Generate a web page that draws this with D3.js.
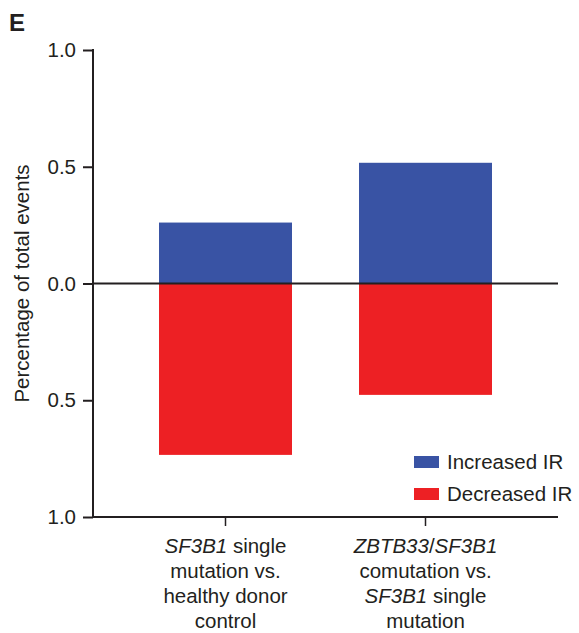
<!DOCTYPE html>
<html>
<head>
<meta charset="utf-8">
<script src="https://cdn.jsdelivr.net/npm/d3@7"></script>
<style>
  body { margin: 0; background: #fff; }
  text { font-family: "Liberation Sans", Arial, sans-serif; fill: #231f20; }
</style>
</head>
<body>
<svg width="579" height="633"></svg>
<script>
const categories = ['sf3b1', 'zbtb33'];
const increased = [0.261, 0.517];
const decreased = [0.734, 0.477];
const yTicks = [-1, -0.5, 0, 0.5, 1];
const seriesNames = ['Increased IR', 'Decreased IR'];
const seriesColors = ['#3953a4', '#ed2024'];
// category labels, one array of lines per bar; segments marked italic
const catLabels = [
	[[['SF3B1', true], [' single', false]], [['mutation vs.', false]], [['healthy donor', false]], [['control', false]]],
	[[['ZBTB33', true], ['/', false], ['SF3B1', true]], [['comutation vs.', false]], [['SF3B1', true], [' single', false]], [['mutation', false]]]
];

const svg = d3.select('svg');
const plotLeft = 93, plotRight = 558, plotTop = 50, plotBottom = 517;
const axisColor = '#231f20';
const fs = 20.5;

const y = d3.scaleLinear().domain([-1, 1]).range([plotBottom, plotTop]);
const x = d3.scaleBand().domain(categories).range([125.5, 525.5])
	.paddingInner(0.335).paddingOuter(0.1675);

// panel label
svg.append('text').attr('x', 9).attr('y', 31)
	.attr('font-size', 24).attr('font-weight', 'bold').text('E');

// bars
const bars = svg.append('g');
bars.selectAll('rect.inc')
	.data(categories)
	.enter().append('rect')
		.attr('class', 'inc')
		.attr('x', d => x(d))
		.attr('width', x.bandwidth())
		.attr('y', (d, i) => y(increased[i]))
		.attr('height', (d, i) => y(0) - y(increased[i]))
		.attr('fill', seriesColors[0]);
bars.selectAll('rect.dec')
	.data(categories)
	.enter().append('rect')
		.attr('class', 'dec')
		.attr('x', d => x(d))
		.attr('width', x.bandwidth())
		.attr('y', y(0))
		.attr('height', (d, i) => y(-decreased[i]) - y(0))
		.attr('fill', seriesColors[1]);

// y axis
const yAxis = svg.append('g')
	.attr('transform', `translate(${plotLeft},0)`)
	.call(d3.axisLeft(y).tickValues(yTicks).tickSize(10).tickPadding(7)
		.tickFormat(d => d3.format('.1f')(Math.abs(d))));
yAxis.select('.domain').remove();
yAxis.append('line').attr('x1', 0).attr('x2', 0).attr('y1', plotTop - 1).attr('y2', plotBottom + 1)
	.attr('stroke', axisColor).attr('stroke-width', 2);
yAxis.selectAll('.tick line').attr('stroke', axisColor).attr('stroke-width', 2);
yAxis.selectAll('.tick text').attr('font-size', fs).attr('fill', '#231f20')
	.attr('font-family', '"Liberation Sans", Arial, sans-serif');

// zero line
svg.append('line').attr('x1', plotLeft).attr('x2', plotRight).attr('y1', y(0)).attr('y2', y(0))
	.attr('stroke', axisColor).attr('stroke-width', 2);

// bottom axis
const xAxis = svg.append('g')
	.attr('transform', `translate(0,${plotBottom})`)
	.call(d3.axisBottom(x).tickSize(9).tickFormat(''));
xAxis.select('.domain').remove();
xAxis.append('line').attr('x1', plotLeft).attr('x2', plotRight).attr('y1', 0).attr('y2', 0)
	.attr('stroke', axisColor).attr('stroke-width', 2);
xAxis.selectAll('.tick line').attr('stroke', axisColor).attr('stroke-width', 1.5);

// category labels
categories.forEach((c, i) => {
	const cx = x(c) + x.bandwidth() / 2;
	catLabels[i].forEach((line, j) => {
		const t = svg.append('text')
			.attr('x', cx).attr('y', 553 + j * 25)
			.attr('text-anchor', 'middle').attr('font-size', fs);
		line.forEach(seg => {
			t.append('tspan').attr('font-style', seg[1] ? 'italic' : 'normal').text(seg[0]);
		});
	});
});

// y label
svg.append('text')
	.attr('transform', `translate(29,${y(0)}) rotate(-90)`)
	.attr('text-anchor', 'middle').attr('font-size', fs)
	.text('Percentage of total events');

// legend
const legend = svg.append('g');
seriesNames.forEach((n, i) => {
	legend.append('rect').attr('x', 414).attr('y', 456 + i * 32)
		.attr('width', 25).attr('height', 12).attr('fill', seriesColors[i]);
	legend.append('text').attr('x', 447).attr('y', 469 + i * 32)
		.attr('font-size', fs).text(n);
});
</script>
</body>
</html>
